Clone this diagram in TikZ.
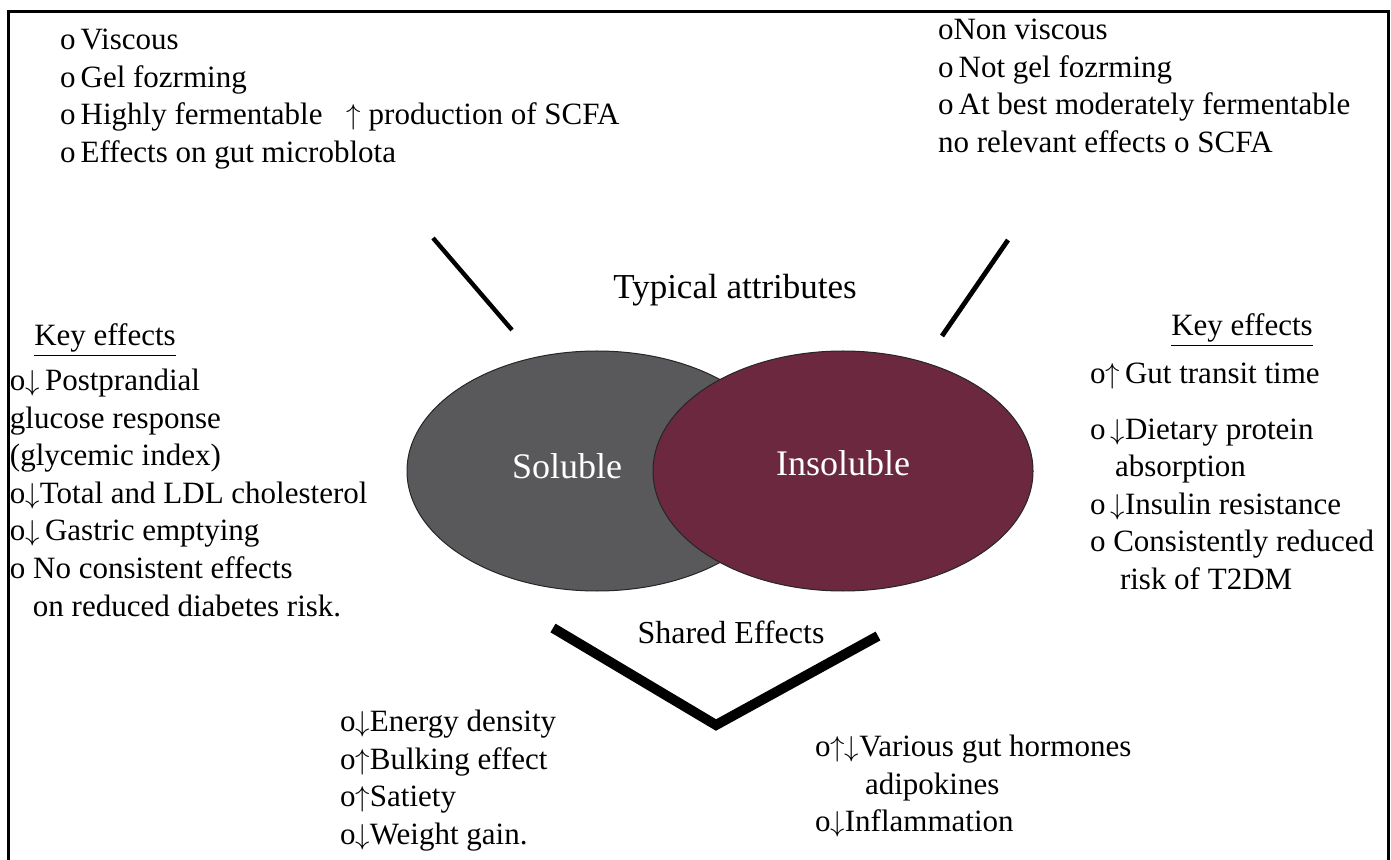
\documentclass[tikz,border=0pt]{standalone}
\usepackage{fontspec}
\setmainfont{Liberation Serif}
\usetikzlibrary{shapes.geometric}
\definecolor{solgray}{HTML}{59585A}
\definecolor{insred}{HTML}{6B283E}
\newcommand{\arup}{$\uparrow$}
\newcommand{\ardown}{$\downarrow$}
\begin{document}
\begin{tikzpicture}[x=0.5pt,y=-0.5pt,every node/.style={inner sep=0pt,outer sep=0pt},
  txt/.style={align=left,anchor=north west,font=\fontsize{15.5}{18.8}\selectfont},
  keyhead/.style={font=\fontsize{15.5}{18.8}\selectfont},
  blob/.style={ellipse,draw=black!85,line width=0.5pt,minimum width=190pt,minimum height=120pt},
  blobtext/.style={text=white,font=\fontsize{18}{20}\selectfont}]
\useasboundingbox (0,0) rectangle (1391,860);
\draw[line width=1.5pt] (8,860) -- (8,12) -- (1388,12) -- (1388,860);
\node[txt] (attrsol) at (60,29) {o\,Viscous\\o\,Gel fozrming\\o\,Highly fermentable\hspace{12pt}\arup\ production of SCFA\\o\,Effects on gut microblota};
\node[txt] (attrins) at (938,19) {oNon viscous\\o\,Not gel fozrming\\o\,At best moderately fermentable\\no relevant effects o SCFA};
\node[font=\fontsize{17.5}{20}\selectfont] (typical) at (735,290) {Typical attributes};
\node[keyhead] (keysol) at (105,340) {\underline{Key effects}};
\node[txt] (effsol) at (10,369) {o\ardown\,Postprandial\\glucose response\\(glycemic index)\\o\ardown Total and LDL cholesterol\\o\ardown\,Gastric emptying\\o No consistent effects\\\hspace*{11.5pt}on reduced diabetes risk.};
\node[keyhead] (keyins) at (1242,330) {\underline{Key effects}};
\node[txt] (effins) at (1090,363) {o\arup\,Gut transit time\\[9pt]o\,\ardown Dietary protein\\\hspace*{12.5pt}absorption\\o\,\ardown Insulin resistance\\o Consistently reduced\\\hspace*{15pt}risk of T2DM};
\node[blob,fill=solgray] (sol) at (597,471) {};
\node[blob,fill=insred] (ins) at (843,471) {};
\node[blobtext] (sollabel) at (567,466) {Soluble};
\node[blobtext] (inslabel) at (843,463) {Insoluble};
\node[font=\fontsize{16}{18}\selectfont] (shared) at (731,632) {Shared Effects};
\node[txt] (shsol) at (340,710) {o\ardown Energy density\\o\arup Bulking effect\\o\arup Satiety\\o\ardown Weight gain.};
\node[txt] (shins) at (815,735) {o\arup\ardown Various gut hormones\\\hspace*{25pt}adipokines\\o\ardown Inflammation};
\coordinate (solup) at (433,238);
\coordinate (soldown) at (512,330);
\coordinate (insup) at (1008,240);
\coordinate (insdown) at (942,336);
\coordinate (vleft) at (553,628);
\coordinate (vtip) at (716,725);
\coordinate (vright) at (878,636);
\draw[line width=2.2pt] (solup) -- (soldown);
\draw[line width=2.4pt] (insup) -- (insdown);
\draw[line width=5pt] (vleft) -- (vtip) -- (vright);
\end{tikzpicture}
\end{document}
